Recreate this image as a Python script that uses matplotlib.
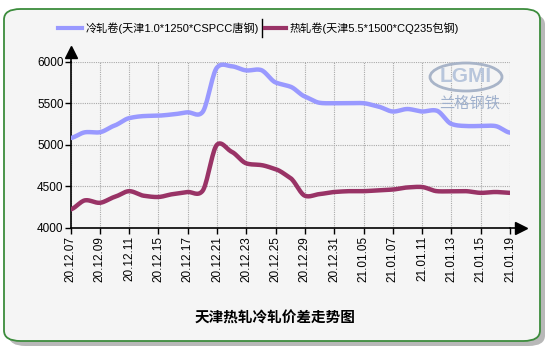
import numpy as np
import matplotlib
matplotlib.use("Agg")
import matplotlib.pyplot as plt
from matplotlib.patches import FancyBboxPatch, Ellipse
from matplotlib.lines import Line2D

plt.rcParams['font.family'] = ['Liberation Sans', 'Noto Sans CJK SC', 'DejaVu Sans']

# data: trading days, labels shown every other point
dates = ["20.12.07", "20.12.08", "20.12.09", "20.12.10", "20.12.11", "20.12.14",
         "20.12.15", "20.12.16", "20.12.17", "20.12.18", "20.12.21", "20.12.22",
         "20.12.23", "20.12.24", "20.12.25", "20.12.28", "20.12.29", "20.12.30",
         "20.12.31", "21.01.04", "21.01.05", "21.01.06", "21.01.07", "21.01.08",
         "21.01.11", "21.01.12", "21.01.13", "21.01.14", "21.01.15", "21.01.18",
         "21.01.19"]
cold = [5080, 5150, 5150, 5230, 5320, 5345, 5350, 5365, 5390, 5390, 5930, 5945,
        5895, 5900, 5750, 5700, 5580, 5505, 5500, 5500, 5500, 5460, 5400, 5430,
        5400, 5410, 5250, 5225, 5225, 5225, 5145]
hot = [4220, 4330, 4300, 4370, 4440, 4385, 4370, 4405, 4430, 4440, 5000, 4915,
       4775, 4755, 4705, 4600, 4385, 4405, 4430, 4440, 4440, 4450, 4460, 4485,
       4490, 4440, 4440, 4440, 4420, 4430, 4420]
cold_name = "冷轧卷(天津1.0*1250*CSPCC唐钢)"
hot_name = "热轧卷(天津5.5*1500*CQ235包钢)"
title = "天津热轧冷轧价差走势图"
yticks = [4000, 4500, 5000, 5500, 6000]

cold_color = "#9999ff"
hot_color = "#993366"
bg = "#f5f5f5"


def smooth(y, n=16, tension=0.3):
    # cardinal spline through the points, for the rounded line look
    y = np.asarray(y, float)
    p = np.concatenate([[y[0]], y, [y[-1]]])
    k = (1 - tension) / 2
    xs, ys = [], []
    for i in range(len(y) - 1):
        p0, p1, p2, p3 = p[i], p[i + 1], p[i + 2], p[i + 3]
        m1, m2 = k * (p2 - p0), k * (p3 - p1)
        t = np.linspace(0, 1, n, endpoint=False)
        h00 = 2 * t ** 3 - 3 * t ** 2 + 1
        h10 = t ** 3 - 2 * t ** 2 + t
        h01 = -2 * t ** 3 + 3 * t ** 2
        h11 = t ** 3 - t ** 2
        xs.append(i + t)
        ys.append(h00 * p1 + h10 * m1 + h01 * p2 + h11 * m2)
    xs.append([len(y) - 1])
    ys.append([y[-1]])
    return np.concatenate(xs), np.concatenate(ys)


W, H = 550, 350
fig = plt.figure(figsize=(W / 100, H / 100), dpi=100)
fig.patch.set_facecolor("white")

# shadow + rounded green frame
shadow = FancyBboxPatch((9 / W, 4 / H), 536 / W, 332 / H,
                        boxstyle="round,pad=0,rounding_size=0.03",
                        transform=fig.transFigure, facecolor="#b8b8b8",
                        edgecolor="none", zorder=0)
frame = FancyBboxPatch((4 / W, 9 / H), 536 / W, 332 / H,
                       boxstyle="round,pad=0,rounding_size=0.03",
                       transform=fig.transFigure, facecolor=bg,
                       edgecolor="#3c8c3c", linewidth=1.3, zorder=1)
fig.patches.extend([shadow, frame])

ax = fig.add_axes([70.5 / W, (H - 227.7) / H, 439.5 / W, 166 / H])
ax.set_facecolor(bg)
ax.set_zorder(2)

x = np.arange(len(dates))
for vals, col in [(cold, cold_color), (hot, hot_color)]:
    sx, sy = smooth(vals)
    ax.plot(sx, sy, color=col, lw=3.2, solid_capstyle="round", zorder=3)

ax.set_xlim(0, len(dates) - 1)
ax.set_ylim(4000, 6000)
ax.set_yticks(yticks)
ax.set_yticklabels([str(v) for v in yticks])
ax.set_xticks(x[::2])
ax.set_xticklabels(dates[::2], rotation=90)
ax.tick_params(axis="both", labelsize=8.5, colors="black", length=4, width=1)
ax.tick_params(axis="x", direction="out", pad=2)
ax.tick_params(axis="y", direction="out", pad=1)
ax.grid(True, color="#aaaaaa", linestyle=(0, (1, 1)), linewidth=0.8)
for s in ["top", "right"]:
    ax.spines[s].set_visible(False)
for s in ["left", "bottom"]:
    ax.spines[s].set_linewidth(1.2)

# axis arrows
ax.plot([0, 0], [1, 1.06], transform=ax.transAxes, color="black", lw=1.2, clip_on=False)
ax.plot([0], [1.06], marker="^", color="black", markersize=8, transform=ax.transAxes, clip_on=False)
ax.plot([1, 1.025], [0, 0], transform=ax.transAxes, color="black", lw=1.2, clip_on=False)
ax.plot([1.025], [0], marker=">", color="black", markersize=8, transform=ax.transAxes, clip_on=False)

# watermark
wm = Ellipse((466 / W, (H - 77) / H), 72 / W, 28 / H, transform=fig.transFigure,
             facecolor="none", edgecolor="#a8b4c8", lw=2, zorder=4)
fig.patches.append(wm)
fig.text(466 / W, (H - 77) / H, "LGMI", ha="center", va="center", fontsize=15,
         fontweight="bold", color="#b8c6dc", zorder=4)
fig.text(470 / W, (H - 103) / H, "兰格钢铁", ha="center", va="center", fontsize=11,
         color="#9fb0cc", zorder=4)

# legend
ly = (H - 28) / H
fig.lines.append(Line2D([58 / W, 82 / W], [ly, ly], color=cold_color, lw=3, transform=fig.transFigure))
fig.text(86 / W, ly, cold_name, ha="left", va="center", fontsize=8)
fig.lines.append(Line2D([262 / W, 262 / W], [ly - 9 / H, ly + 9 / H], color="black", lw=1, transform=fig.transFigure))
fig.lines.append(Line2D([265 / W, 286 / W], [ly, ly], color=hot_color, lw=3, transform=fig.transFigure))
fig.text(290 / W, ly, hot_name, ha="left", va="center", fontsize=8)

fig.text(275 / W, (H - 318) / H, title, ha="center", va="center", fontsize=10.5,
         fontweight="bold", family=["Noto Sans CJK SC"])

fig.savefig("out.png", dpi=100, facecolor=fig.get_facecolor())
